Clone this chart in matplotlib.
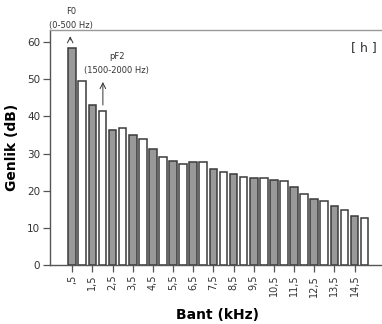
import matplotlib
matplotlib.use("Agg")
import matplotlib.pyplot as plt
import numpy as np

# Band centres (kHz) and amplitudes (dB)
gray_bands = [0.5, 1.5, 2.5, 3.5, 4.5, 5.5, 6.5, 7.5, 8.5, 9.5, 10.5, 11.5, 12.5, 13.5, 14.5]
gray_vals = [58.5, 43.0, 36.2, 34.9, 31.3, 27.9, 27.7, 25.8, 24.6, 23.5, 23.0, 21.1, 17.7, 15.9, 13.3]
white_bands = [1.0, 2.0, 3.0, 4.0, 5.0, 6.0, 7.0, 8.0, 9.0, 10.0, 11.0, 12.0, 13.0, 14.0, 15.0]
white_vals = [49.6, 41.4, 36.8, 33.9, 29.1, 27.2, 27.6, 24.9, 23.8, 23.5, 22.5, 19.2, 17.1, 14.7, 12.6]
tick_labels = [",5", "1,5", "2,5", "3,5", "4,5", "5,5", "6,5", "7,5", "8,5", "9,5",
               "10,5", "11,5", "12,5", "13,5", "14,5"]
y_ticks = [0, 10, 20, 30, 40, 50, 60]

fig = plt.figure(figsize=(3.82, 3.24), dpi=100)
ax = fig.add_axes([0.131, 0.182, 0.879, 0.725])

edge = "#3a3a3a"
ax.bar(gray_bands, gray_vals, width=0.38, color="#999999", edgecolor=edge, linewidth=1.1)
ax.bar(white_bands, white_vals, width=0.38, color="white", edgecolor=edge, linewidth=1.1)

ax.set_xlim(-0.6, 16.05)
ax.set_ylim(0, 63.2)
ax.set_xticks(gray_bands)
ax.set_xticklabels(tick_labels, rotation=90, fontsize=7, color="#333333")
ax.set_yticks(y_ticks)
ax.set_yticklabels([str(v) for v in y_ticks], fontsize=7.5, color="#333333")
ax.tick_params(axis="both", direction="out", length=5, width=0.9, color="#555555", pad=2)

for s in ["left", "bottom"]:
    ax.spines[s].set_color("#555555")
    ax.spines[s].set_linewidth(1.0)
ax.spines["top"].set_color("#999999")
ax.spines["top"].set_linewidth(1.0)
ax.spines["right"].set_visible(False)

ax.set_ylabel("Genlik (dB)", fontsize=10, fontweight="bold", labelpad=6)
ax.set_xlabel("Bant (kHz)", fontsize=10, fontweight="bold", labelpad=8)

# annotations
ax.annotate("", xy=(0.4, 62.3), xytext=(0.4, 59.8),
            arrowprops=dict(arrowstyle="->", lw=0.7, color="#333333"), annotation_clip=False)
ax.text(0.45, 63.3, "F0\n(0-500 Hz)", ha="center", va="bottom", fontsize=6,
        color="#333333", linespacing=1.75, clip_on=False)
ax.annotate("", xy=(2.02, 50.0), xytext=(2.02, 42.3),
            arrowprops=dict(arrowstyle="->", lw=0.7, color="#333333"))
ax.text(2.7, 51.0, "pF2\n(1500-2000 Hz)", ha="center", va="bottom", fontsize=6,
        color="#333333", linespacing=1.75)
ax.text(14.95, 58.4, "[ h ]", ha="center", va="center", fontsize=9, color="#333333")

fig.savefig("out.png", dpi=100)
